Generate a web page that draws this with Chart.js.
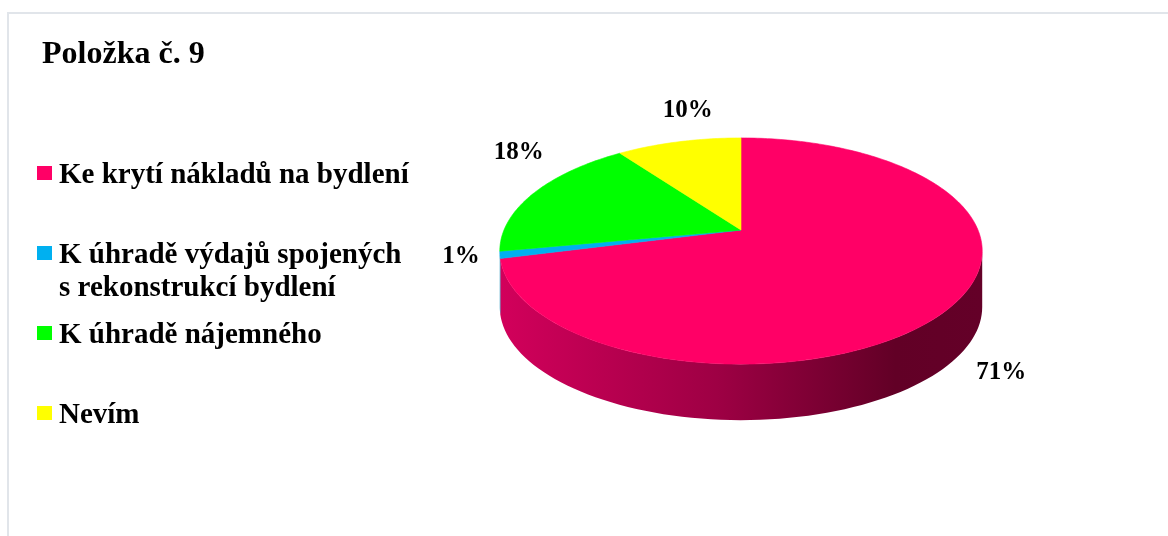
<!DOCTYPE html>
<html>
<head>
<meta charset="utf-8">
<title>Položka č. 9</title>
<script src="https://cdn.jsdelivr.net/npm/chart.js"></script>
<style>
  body { margin: 0; background: #fff; }
</style>
</head>
<body>
<div style="position: relative; width: 1168px; height: 536px;">
  <canvas id="pieChart" width="1168" height="536"></canvas>
</div>

<script>
// chart values
var titleText = 'Položka č. 9';
var categories = ['Ke krytí nákladů na bydlení', 'K úhradě výdajů spojených s rekonstrukcí bydlení', 'K úhradě nájemného', 'Nevím'];
var legendLines = [['Ke krytí nákladů na bydlení'], ['K úhradě výdajů spojených', 's rekonstrukcí bydlení'], ['K úhradě nájemného'], ['Nevím']];
var shares = [71, 1, 18, 10];

// colours
var sliceColors = ['#FF0066', '#00B0F0', '#00FF00', '#FFFF00'];
var sideColors = ['#C8005A', '#0085B5', '#00B000', '#C0C000'];
var labelNudge = [[49, 11], [-39, 2], [-16, -40], [9, -31]];

var FONT = "'Liberation Serif', 'Times New Roman', serif";

// simple perspective for the flat pie: tilt, perspective, thickness
var tilt = 0.4607, persp = 0.186, depth = 56;

function proj(cx, cy, r, t) {
    var w = 1 - persp * Math.sin(t);
    return { x: cx + r * Math.cos(t) / w, y: cy + r * tilt * Math.sin(t) / w };
}

var framePlugin = {
    id: 'frame',
    beforeDraw: function(chart) {
        var ctx = chart.ctx;
        ctx.save();
        ctx.fillStyle = '#ffffff';
        ctx.fillRect(0, 0, chart.width, chart.height);
        ctx.strokeStyle = '#E1E5EA';
        ctx.lineWidth = 2;
        ctx.beginPath();
        ctx.moveTo(8, chart.height);
        ctx.lineTo(8, 13);
        ctx.lineTo(chart.width, 13);
        ctx.stroke();

        ctx.fillStyle = '#000';
        ctx.font = 'bold 32px ' + FONT;
        ctx.textBaseline = 'alphabetic';
        ctx.fillText(titleText, 42, 63);

        // legend
        ctx.font = 'bold 29px ' + FONT;
        for (var i = 0; i < legendLines.length; i++) {
            var cyItem = 173 + i * 80;
            ctx.fillStyle = sliceColors[i];
            ctx.fillRect(37, cyItem - 7, 15, 14);
            ctx.fillStyle = '#000';
            for (var j = 0; j < legendLines[i].length; j++) {
                ctx.fillText(legendLines[i][j], 59, cyItem + 10 + j * 33);
            }
        }
        ctx.restore();
    }
};

var pie3dPlugin = {
    id: 'pie3d',
    beforeDatasetDraw: function(chart, args) {
        var ctx = chart.ctx;
        var arcs = args.meta.data;
        if (!arcs.length) return false;
        var cx = arcs[0].x, cy = arcs[0].y, r = arcs[0].outerRadius;
        var frontA = Math.asin(persp), frontB = Math.PI - Math.asin(persp);
        var halfW = r / Math.sqrt(1 - persp * persp);

        ctx.save();
        // side wall
        arcs.forEach(function(arc, i) {
            var s = arc.startAngle, e = arc.endAngle;
            // normalise into [-PI, PI)
            while (s >= Math.PI) { s -= 2 * Math.PI; e -= 2 * Math.PI; }
            var a = Math.max(s, frontA), b = Math.min(e, frontB);
            if (b <= a) return;
            ctx.beginPath();
            var n = 80, k, p;
            for (k = 0; k <= n; k++) {
                p = proj(cx, cy, r, a + (b - a) * k / n);
                if (k === 0) ctx.moveTo(p.x, p.y); else ctx.lineTo(p.x, p.y);
            }
            for (k = n; k >= 0; k--) {
                p = proj(cx, cy, r, a + (b - a) * k / n);
                ctx.lineTo(p.x, p.y + depth);
            }
            ctx.closePath();
            if (i === 0) {
                var g = ctx.createLinearGradient(cx - halfW, 0, cx + halfW, 0);
                g.addColorStop(0, '#D2005B');
                g.addColorStop(0.45, '#9E0044');
                g.addColorStop(0.82, '#620026');
                g.addColorStop(1, '#640028');
                ctx.fillStyle = g;
            } else {
                ctx.fillStyle = sideColors[i];
            }
            ctx.fill();
        });

        // top face
        arcs.forEach(function(arc) {
            var s = arc.startAngle, e = arc.endAngle;
            var n = Math.max(4, Math.ceil((e - s) * 60));
            ctx.beginPath();
            ctx.moveTo(cx, cy);
            for (var k = 0; k <= n; k++) {
                var p = proj(cx, cy, r, s + (e - s) * k / n);
                ctx.lineTo(p.x, p.y);
            }
            ctx.closePath();
            ctx.fillStyle = arc.options.backgroundColor;
            ctx.strokeStyle = arc.options.backgroundColor;
            ctx.lineWidth = 0.6;
            ctx.fill();
            ctx.stroke();
        });

        // value labels
        var total = shares.reduce(function(t, v) { return t + v; }, 0);
        ctx.fillStyle = '#000';
        ctx.font = 'bold 25px ' + FONT;
        ctx.textAlign = 'center';
        ctx.textBaseline = 'middle';
        arcs.forEach(function(arc, i) {
            var mid = (arc.startAngle + arc.endAngle) / 2;
            var p = proj(cx, cy, r, mid);
            var dy = Math.sin(mid) > 0.5 ? depth : 0;
            var txt = Math.round(shares[i] / total * 100) + '%';
            ctx.fillText(txt, p.x + labelNudge[i][0], p.y + dy + labelNudge[i][1]);
        });
        ctx.restore();
        return false;
    }
};

var ctx = document.getElementById('pieChart').getContext('2d');
var pieChart = new Chart(ctx, {
    type: 'pie',
    data: {
        labels: categories,
        datasets: [{
            data: shares,
            backgroundColor: sliceColors,
            borderWidth: 0,
            radius: 237
        }]
    },
    options: {
        responsive: false,
        animation: false,
        events: [],
        layout: { padding: { left: 504, right: 190, top: 0, bottom: 76 } },
        plugins: {
            legend: { display: false },
            title: { display: false },
            tooltip: { enabled: false }
        }
    },
    plugins: [framePlugin, pie3dPlugin]
});
</script>
</body>
</html>
